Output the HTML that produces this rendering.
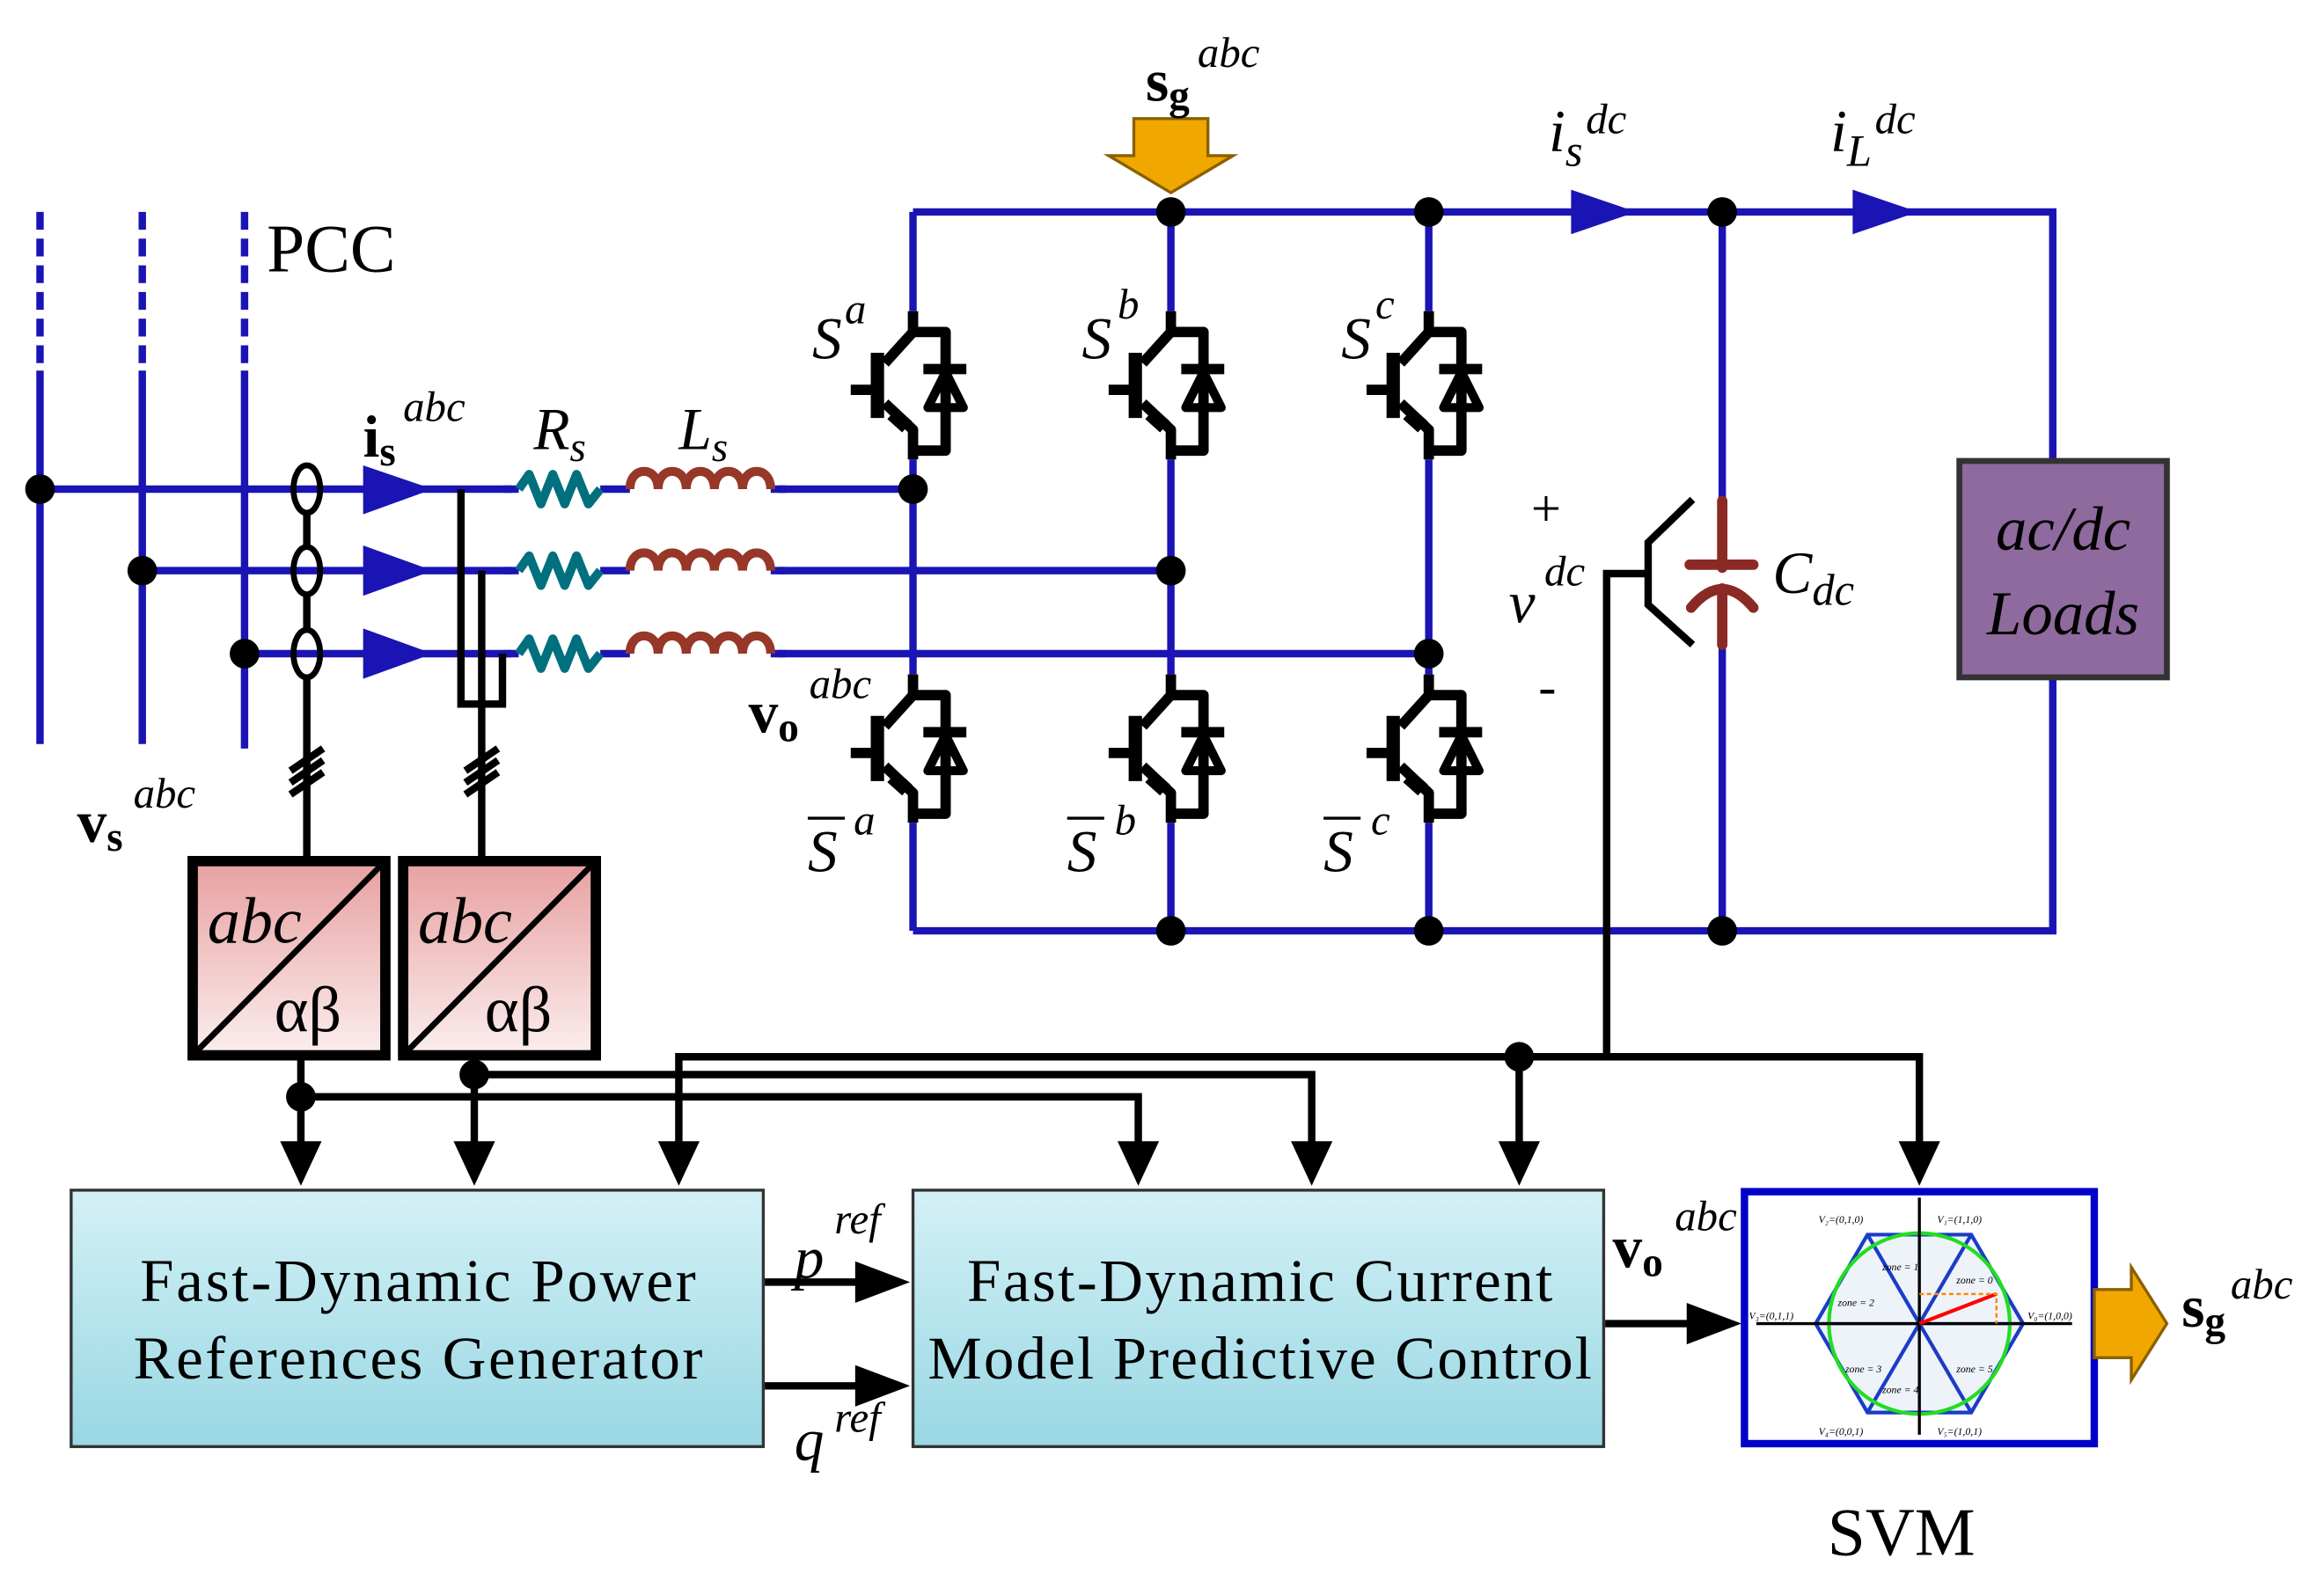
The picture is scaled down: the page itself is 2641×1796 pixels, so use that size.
<!DOCTYPE html>
<html><head><meta charset="utf-8"><style>html,body{margin:0;padding:0;background:#fff}svg{display:block}</style></head>
<body>
<svg width="2641" height="1796" viewBox="0 0 1568 1066" preserveAspectRatio="none" xmlns="http://www.w3.org/2000/svg" font-family="Liberation Serif, serif">
<defs>
<linearGradient id="pk" x1="0" y1="0" x2="0" y2="1"><stop offset="0" stop-color="#e8a0a0"/><stop offset="1" stop-color="#fbeeee"/></linearGradient>
<linearGradient id="cy" x1="0" y1="0" x2="0" y2="1"><stop offset="0" stop-color="#d4f1f6"/><stop offset="1" stop-color="#98d7e3"/></linearGradient>
<g id="igbt" fill="none" stroke="#000" stroke-width="7" stroke-linejoin="round">
<path d="M616,210 V224 L597,245"/>
<path d="M592,238 V282" stroke-width="9"/>
<path d="M574,263 H592"/>
<path d="M597,272 L616,290 V310"/>
<path d="M616,224 H638 V304 H616"/>
<path d="M623,249 H652"/>
<path d="M638,251 L626,275 H650 Z" stroke-width="6"/>
<path d="M602,279 L612,288" stroke-width="10"/>
</g>
<g id="res" fill="none" stroke="#00707f" stroke-width="6" stroke-linejoin="round"><path d="M350,0 L357,-10 L365,10 L373,-10 L381,10 L389,-10 L397,10 L405,0"/></g>
<g id="ind" fill="none" stroke="#963728" stroke-width="6"><path d="M425,0 C425,-16 444,-16 444,0 C444,-16 463,-16 463,0 C463,-16 482,-16 482,0 C482,-16 501,-16 501,0 C501,-16 520,-16 520,0"/></g>
</defs>

<g stroke="#1a14b4" stroke-width="5" fill="none">
<path d="M27,143 V245" stroke-dasharray="12,6"/><path d="M27,250 V502"/>
<path d="M96,143 V245" stroke-dasharray="12,6"/><path d="M96,250 V502"/>
<path d="M165,143 V245" stroke-dasharray="12,6"/><path d="M165,250 V505"/>
<path d="M27,330 H616"/><path d="M96,385 H790"/><path d="M165,441 H964"/>
<path d="M616,143 H1385 V311"/><path d="M1385,457 V628 H616"/>
<path d="M616,143 V210"/><path d="M616,310 V455"/><path d="M616,555 V628"/>
<path d="M790,143 V210"/><path d="M790,310 V455"/><path d="M790,555 V628"/>
<path d="M964,143 V210"/><path d="M964,310 V455"/><path d="M964,555 V628"/>
<path d="M1162,143 V338"/><path d="M1162,435 V628"/>
</g>
<g fill="#fff" stroke="none"><rect x="345" y="315" width="180" height="140"/></g>
<g stroke="#1a14b4" stroke-width="5"><path d="M340,330 H350 M405,330 H425 M520,330 H530 M340,385 H350 M405,385 H425 M520,385 H530 M340,441 H350 M405,441 H425 M520,441 H530"/></g>
<use href="#res" transform="translate(0,330)"/><use href="#res" transform="translate(0,385)"/><use href="#res" transform="translate(0,441)"/>
<use href="#ind" transform="translate(0,330)"/><use href="#ind" transform="translate(0,385)"/><use href="#ind" transform="translate(0,441)"/>
<g fill="#1a14b4">
<path d="M245,314 L292,330 L245,347 Z"/><path d="M245,368 L292,385 L245,402 Z"/><path d="M245,424 L292,441 L245,458 Z"/>
<path d="M1060,128 L1104,143 L1060,158 Z"/><path d="M1250,128 L1294,143 L1250,158 Z"/>
</g>
<g fill="#000">
<circle cx="27" cy="330" r="10"/><circle cx="96" cy="385" r="10"/><circle cx="165" cy="441" r="10"/>
<circle cx="616" cy="330" r="10"/><circle cx="790" cy="385" r="10"/><circle cx="964" cy="441" r="10"/>
<circle cx="790" cy="143" r="10"/><circle cx="964" cy="143" r="10"/><circle cx="1162" cy="143" r="10"/>
<circle cx="790" cy="628" r="10"/><circle cx="964" cy="628" r="10"/><circle cx="1162" cy="628" r="10"/>
<circle cx="203" cy="740" r="10"/><circle cx="320" cy="725" r="10"/><circle cx="1025" cy="713" r="10"/>
</g>
<use href="#igbt"/><use href="#igbt" transform="translate(174,0)"/><use href="#igbt" transform="translate(348,0)"/>
<use href="#igbt" transform="translate(0,245)"/><use href="#igbt" transform="translate(174,245)"/><use href="#igbt" transform="translate(348,245)"/>
<g stroke="#8b2a25" stroke-width="7" fill="none" stroke-linecap="round">
<path d="M1162,338 V383"/><path d="M1140,381 H1183"/><path d="M1141,410 Q1162,385 1183,410"/><path d="M1162,397 V435"/>
</g>
<g stroke="#000" stroke-width="5" fill="none">
<path d="M1142,337 L1112,366 V408 L1142,435"/>
<path d="M1112,387 H1084 V713"/>
<path d="M207,346 V369 M207,401 V425 M207,457 V578"/>
<path d="M311,330 V475 H339 V441 M325,385 V578"/>
<path d="M196,520 L218,505 M196,528 L218,513 M196,536 L218,521"/>
<path d="M314,520 L336,505 M314,528 L336,513 M314,536 L336,521"/>
<path d="M203,712 V790 M320,712 V790 M203,740 H768 V790 M320,725 H885 V790"/>
<path d="M458,790 V713 H1295 V790 M1025,713 V790"/>
<path d="M516,865 H600 M516,935 H600 M1083,893 H1160"/>
</g>
<g fill="none" stroke="#000" stroke-width="4"><ellipse cx="207" cy="330" rx="9" ry="16"/><ellipse cx="207" cy="385" rx="9" ry="16"/><ellipse cx="207" cy="441" rx="9" ry="16"/></g>
<g fill="#000">
<path d="M189,770 L217,770 L203,800 Z"/><path d="M306,770 L334,770 L320,800 Z"/>
<path d="M444,770 L472,770 L458,800 Z"/><path d="M754,770 L782,770 L768,800 Z"/><path d="M871,770 L899,770 L885,800 Z"/>
<path d="M1011,770 L1039,770 L1025,800 Z"/><path d="M1281,770 L1309,770 L1295,800 Z"/>
<path d="M577,851 L614,865 L577,879 Z"/><path d="M577,921 L614,935 L577,949 Z"/><path d="M1138,879 L1175,893 L1138,907 Z"/>
</g>
<g stroke="#000" stroke-width="7"><rect x="130" y="581" width="130" height="131" fill="url(#pk)"/><rect x="272" y="581" width="130" height="131" fill="url(#pk)"/></g>
<g stroke="#000" stroke-width="4"><path d="M133,709 L257,584 M275,709 L399,584"/></g>
<g font-size="44" font-style="italic"><text x="140" y="636">abc</text><text x="282" y="636">abc</text></g>
<g font-size="44"><text x="185" y="696">αβ</text><text x="327" y="696">αβ</text></g>
<rect x="1322" y="311" width="140" height="146" fill="#8e6a9e" stroke="#333" stroke-width="4"/>
<g font-size="42" font-style="italic" text-anchor="middle"><text x="1392" y="371">ac/dc</text><text x="1392" y="428">Loads</text></g>
<rect x="48" y="803" width="467" height="173" fill="url(#cy)" stroke="#333" stroke-width="2"/>
<rect x="616" y="803" width="466" height="173" fill="url(#cy)" stroke="#333" stroke-width="2"/>
<g font-size="41" text-anchor="middle"><text x="282" y="878" textLength="375">Fast-Dynamic Power</text><text x="282" y="930" textLength="384">References Generator</text>
<text x="850" y="878" textLength="395">Fast-Dynamic Current</text><text x="850" y="930" textLength="448">Model Predictive Control</text></g>
<rect x="1177" y="804" width="236" height="170" fill="#fff" stroke="#0000c8" stroke-width="5"/>
<g transform="translate(1295,893)">
<path d="M-70,0 L-35,-60 L35,-60 L70,0 L35,60 L-35,60 Z M-35,-60 L35,60 M35,-60 L-35,60" fill="#eef3fa" stroke="#1a3cc8" stroke-width="2.5"/>
<path d="M-70,0 H70" stroke="#1a3cc8" stroke-width="2"/>
<circle r="61" fill="none" stroke="#22dd22" stroke-width="2.5"/>
<path d="M-110,0 H103 M0,75 V-85" stroke="#000" stroke-width="2"/>
<path d="M0,0 L52,-20" stroke="red" stroke-width="2.5"/><path d="M0,-20 H52 V0" stroke="#f80" stroke-width="1.5" stroke-dasharray="3,2" fill="none"/>
<g font-size="7" font-style="italic"><text x="-68" y="-68">V₂=(0,1,0)</text><text x="12" y="-68">V₁=(1,1,0)</text><text x="-115" y="-3">V₃=(0,1,1)</text><text x="73" y="-3">V₀=(1,0,0)</text>
<text x="-68" y="75">V₄=(0,0,1)</text><text x="12" y="75">V₅=(1,0,1)</text><text x="-25" y="-36">zone = 1</text><text x="-55" y="-12">zone = 2</text><text x="-50" y="33">zone = 3</text><text x="-25" y="47">zone = 4</text><text x="25" y="33">zone = 5</text><text x="25" y="-27">zone = 0</text></g>
</g>
<path d="M765,80 H815 V105 H832 L790,130 L748,105 H765 Z" fill="#f0a800" stroke="#8a6000" stroke-width="2"/>
<path d="M1413,870 H1438 V855 L1462,893 L1438,931 V916 H1413 Z" fill="#f0a800" stroke="#8a6000" stroke-width="2"/>
<g font-size="46"><text x="180" y="183">PCC</text><text x="1233" y="1049">SVM</text></g>
<g font-size="40" font-style="italic">
<text x="360" y="303">R<tspan font-size="28" dy="8">s</tspan></text>
<text x="458" y="303">L<tspan font-size="28" dy="8">s</tspan></text>
<text x="1196" y="400">C<tspan font-size="30" dy="8">dc</tspan></text>
<text x="1045" y="102">i<tspan font-size="30" dy="10">s</tspan></text>
<text x="1235" y="102">i<tspan font-size="30" dy="10">L</tspan></text>
<text x="1018" y="420">v</text>
<text x="548" y="242">S</text><text x="730" y="242">S</text><text x="905" y="242">S</text>
<text x="545" y="588">S</text><text x="720" y="588">S</text><text x="893" y="588">S</text>
<text x="536" y="862">p</text><text x="536" y="985">q</text>
</g>
<g stroke="#000" stroke-width="2"><path d="M545,552 H570 M720,552 H745 M893,552 H918"/></g>
<g font-size="29" font-style="italic">
<text x="272" y="284">abc</text><text x="90" y="545">abc</text><text x="546" y="471">abc</text>
<text x="808" y="45">abc</text><text x="1070" y="90">dc</text><text x="1265" y="90">dc</text><text x="1042" y="395">dc</text>
<text x="570" y="218">a</text><text x="754" y="215">b</text><text x="928" y="215">c</text>
<text x="576" y="563">a</text><text x="752" y="563">b</text><text x="925" y="563">c</text>
<text x="563" y="832">ref</text><text x="563" y="966">ref</text>
<text x="1130" y="830">abc</text><text x="1505" y="876">abc</text>
</g>
<g font-size="40" font-weight="bold">
<text x="245" y="308">i<tspan font-size="28" dy="6">s</tspan></text>
<text x="52" y="568">v<tspan font-size="28" dy="6">s</tspan></text>
<text x="505" y="494">v<tspan font-size="28" dy="6">o</tspan></text>
<text x="773" y="68">s<tspan font-size="28" dy="6">g</tspan></text>
<text x="1088" y="855">v<tspan font-size="28" dy="6">o</tspan></text>
<text x="1472" y="895">s<tspan font-size="28" dy="6">g</tspan></text>
</g>
<g font-size="36"><text x="1033" y="355">+</text><text x="1038" y="475">-</text></g>
</svg>
</body></html>
